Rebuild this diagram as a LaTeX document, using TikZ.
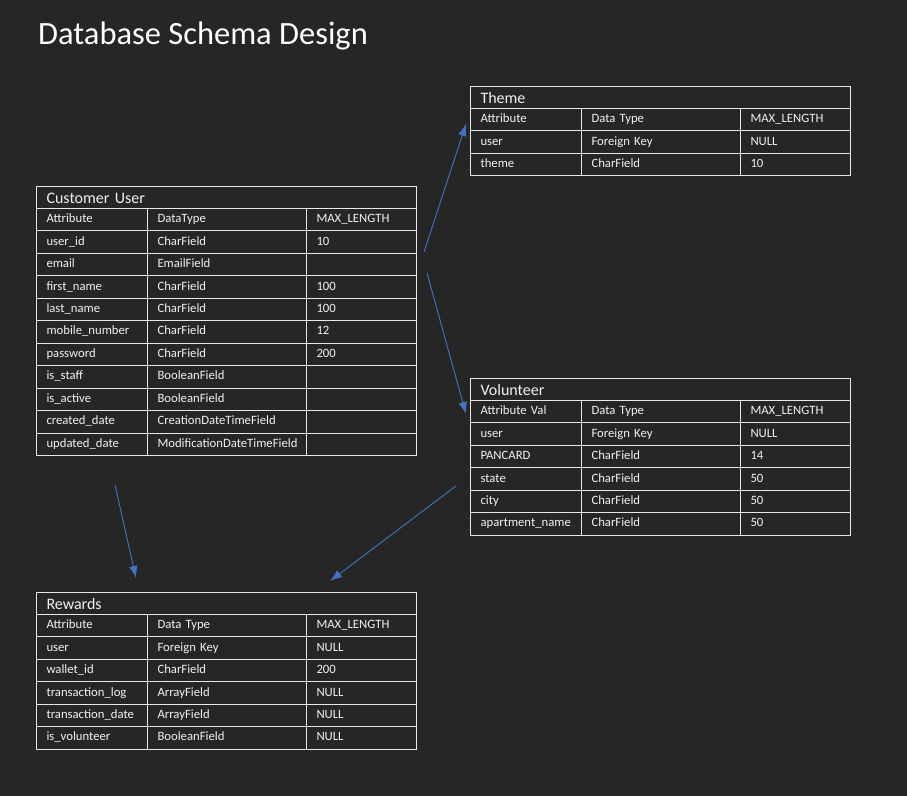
\documentclass[tikz,border=0pt]{standalone}
\usepackage{fontspec}
\setmainfont{Carlito}
\usetikzlibrary{arrows.meta}
\definecolor{bgdark}{HTML}{262626}
\definecolor{gridline}{HTML}{E8E8E8}
\definecolor{celltext}{HTML}{F2F2F2}
\definecolor{linkblue}{HTML}{4472C4}
\tikzset{
  cell/.style={draw=gridline, line width=1pt, anchor=north west, minimum height=22.45pt,
    inner xsep=10pt, inner ysep=0pt, text=celltext, align=left,
    font=\fontsize{12.7}{14}\selectfont, text height=9pt, text depth=3pt},
  colA/.style={cell, text width=91pt},
  colB/.style={cell, text width=139pt},
  colC/.style={cell, text width=90pt},
  tabtitle/.style={cell, minimum height=22pt, text width=360pt,
    font=\fontsize{16}{18}\selectfont, text height=13pt, text depth=1pt},
  link/.style={draw=linkblue, line width=0.9pt, -{Latex[length=12pt,width=8.5pt]}}
}
\begin{document}
\begin{tikzpicture}[x=1pt,y=-1pt]
\useasboundingbox[fill=bgdark] (0,0) rectangle (907,796);
\node[anchor=base west, inner sep=0pt, text=white, font=\fontsize{32.5}{38}\selectfont] (heading) at (38,44) {Database Schema Design};

% Customer User
\node[tabtitle] (cu) at (36,186) {Customer User};
\foreach \a/\b/\c [count=\i from 0] in {Attribute/DataType/MAX\_LENGTH, user\_id/CharField/10, email/EmailField/{}, first\_name/CharField/100, last\_name/CharField/100, mobile\_number/CharField/12, password/CharField/200, is\_staff/BooleanField/{}, is\_active/BooleanField/{}, created\_date/CreationDateTimeField/{}, updated\_date/ModificationDateTimeField/{}}{
  \node[colA] (cu-a\i) at (36,{208+22.45*\i}) {\a};
  \node[colB] (cu-b\i) at (147,{208+22.45*\i}) {\b};
  \node[colC] (cu-c\i) at (306,{208+22.45*\i}) {\c};
}

% Theme
\node[tabtitle] (th) at (470,86) {Theme};
\foreach \a/\b/\c [count=\i from 0] in {Attribute/Data Type/MAX\_LENGTH, user/Foreign Key/NULL, theme/CharField/10}{
  \node[colA] (th-a\i) at (470,{108+22.45*\i}) {\a};
  \node[colB] (th-b\i) at (581,{108+22.45*\i}) {\b};
  \node[colC] (th-c\i) at (740,{108+22.45*\i}) {\c};
}

% Volunteer
\node[tabtitle] (vo) at (470,378) {Volunteer};
\foreach \a/\b/\c [count=\i from 0] in {Attribute Val/Data Type/MAX\_LENGTH, user/Foreign Key/NULL, PANCARD/CharField/14, state/CharField/50, city/CharField/50, apartment\_name/CharField/50}{
  \node[colA] (vo-a\i) at (470,{400+22.45*\i}) {\a};
  \node[colB] (vo-b\i) at (581,{400+22.45*\i}) {\b};
  \node[colC] (vo-c\i) at (740,{400+22.45*\i}) {\c};
}

% Rewards
\node[tabtitle] (rw) at (36,592) {Rewards};
\foreach \a/\b/\c [count=\i from 0] in {Attribute/Data Type/MAX\_LENGTH, user/Foreign Key/NULL, wallet\_id/CharField/200, transaction\_log/ArrayField/NULL, transaction\_date/ArrayField/NULL, is\_volunteer/BooleanField/NULL}{
  \node[colA] (rw-a\i) at (36,{614+22.45*\i}) {\a};
  \node[colB] (rw-b\i) at (147,{614+22.45*\i}) {\b};
  \node[colC] (rw-c\i) at (306,{614+22.45*\i}) {\c};
}

% relations
\coordinate (cu-out1) at (424,252);
\coordinate (th-in) at (466,124);
\coordinate (cu-out2) at (427,273);
\coordinate (vo-in) at (466,414);
\coordinate (cu-out3) at (115,485);
\coordinate (rw-in1) at (136,578);
\coordinate (vo-out) at (456,486);
\coordinate (rw-in2) at (330,581);
\draw[link] (cu-out1) -- (th-in);
\draw[link] (cu-out2) -- (vo-in);
\draw[link] (cu-out3) -- (rw-in1);
\draw[link] (vo-out) -- (rw-in2);
\end{tikzpicture}
\end{document}
